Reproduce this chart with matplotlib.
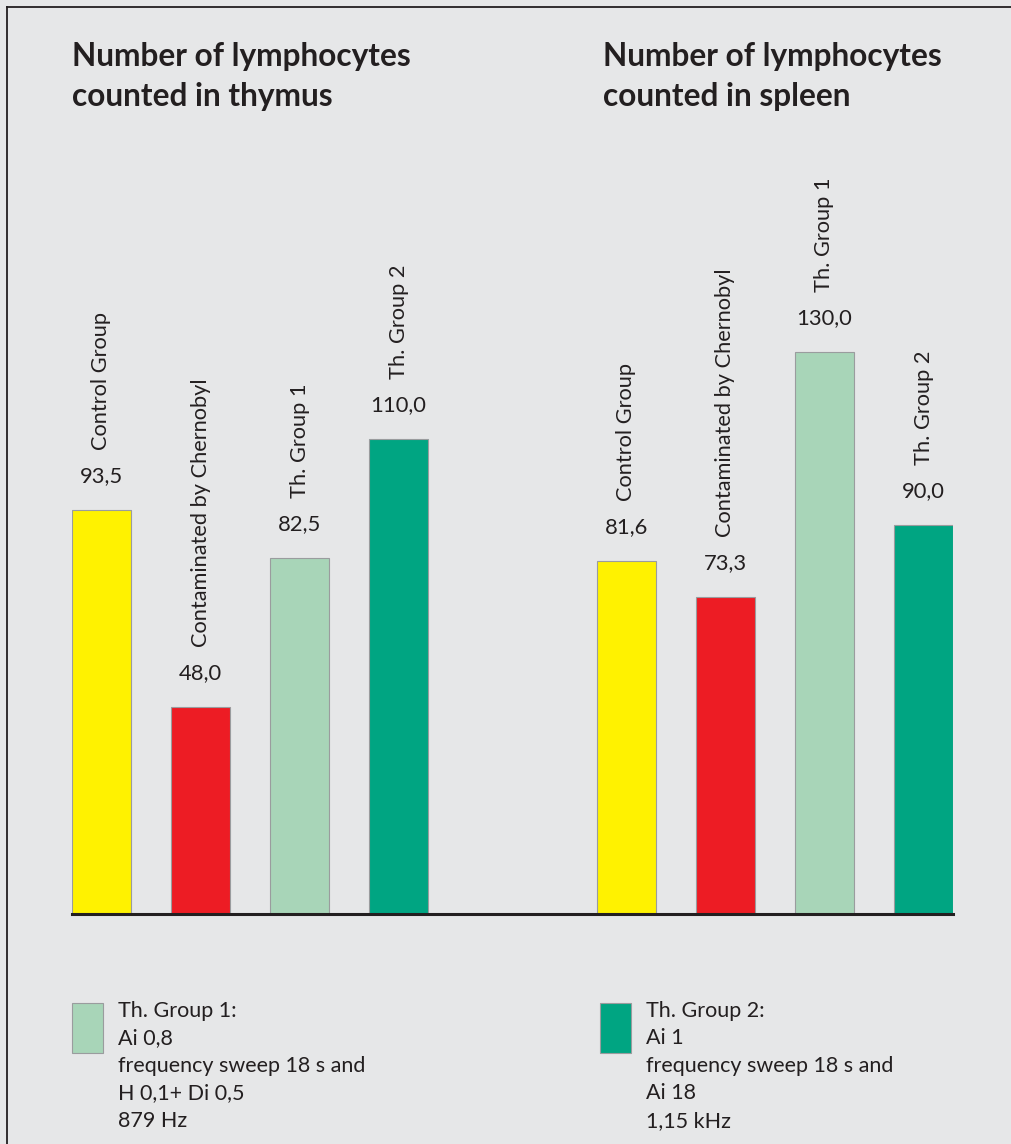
import numpy as np
import matplotlib.pyplot as plt
from matplotlib.patches import Rectangle
from matplotlib.lines import Line2D

plt.rcParams['font.family'] = ['Lato', 'DejaVu Sans']

# data
groups = ['Control Group', 'Contaminated by Chernobyl', 'Th. Group 1', 'Th. Group 2']
thymus = [93.5, 48.0, 82.5, 110.0]
spleen = [81.6, 73.3, 130.0, 90.0]
titles = ['Number of lymphocytes\ncounted in thymus', 'Number of lymphocytes\ncounted in spleen']
legend_th1 = ['Th. Group 1:', 'Ai 0,8', 'frequency sweep 18 s and', 'H 0,1+ Di 0,5', '879 Hz']
legend_th2 = ['Th. Group 2:', 'Ai 1', 'frequency sweep 18 s and', 'Ai 18', '1,15 kHz']

colors = ['#fff200', '#ed1c24', '#a8d5b8', '#00a582']
bg = '#e6e7e8'
ink = '#231f20'

W, H = 1011, 1144
fig = plt.figure(figsize=(W / 100, H / 100), dpi=100)
fig.patch.set_facecolor(bg)

def fx(px):
    return px / W

def fy(py):
    return 1 - py / H

# one axes holds both groups; baseline is a single line across
ax = fig.add_axes([fx(72), fy(914), fx(953 - 72), (914 - 150) / H])
ax.set_facecolor('none')

gap = 5.3
width = 0.595
x_left = np.arange(4)
x_right = np.arange(4) + gap

for xs, vals in ((x_left, thymus), (x_right, spleen)):
    ax.bar(xs, vals, width=width, color=colors, edgecolor='#9a9c9e', linewidth=0.8)
    for x, v, name in zip(xs, vals, groups):
        ax.annotate(f'{v:.1f}'.replace('.', ','), (x, v), xytext=(0, 34),
                    textcoords='offset pixels', ha='center', va='center',
                    fontsize=15.8, color=ink)
        ax.annotate(name, (x, v), xytext=(0, 60), textcoords='offset pixels',
                    ha='center', va='bottom', rotation=90, fontsize=15.7, color=ink)

ax.set_xlim(-width / 2, gap + 3 + width / 2)
ax.set_ylim(0, (914 - 150) / 4.32)
for s in ['top', 'right', 'left']:
    ax.spines[s].set_visible(False)
ax.spines['bottom'].set_linewidth(2.2)
ax.spines['bottom'].set_color(ink)
ax.set_xticks([])
ax.set_yticks([])

# titles
for x0, t in ((72, titles[0]), (603, titles[1])):
    fig.text(fx(x0), fy(42), t, ha='left', va='top', fontsize=22.8,
             fontweight='bold', color=ink, linespacing=1.45)

# legend boxes with their notes
for x0, col, lines in ((72, colors[2], legend_th1), (600, colors[3], legend_th2)):
    fig.patches.append(Rectangle((fx(x0), fy(1053)), fx(31), 50 / H,
                                 transform=fig.transFigure, facecolor=col,
                                 edgecolor='#9a9c9e', linewidth=0.8))
    for i, line in enumerate(lines):
        fig.text(fx(x0 + 46), fy(1011 + 27.4 * i), line, ha='left', va='center',
                 fontsize=15.5, color=ink)

# frame lines along top and left edge
fig.add_artist(Line2D([fx(7), 1], [fy(7), fy(7)], color=ink, lw=1.3))
fig.add_artist(Line2D([fx(7), fx(7)], [0, fy(7)], color=ink, lw=1.3))

fig.savefig('out.png', dpi=100, facecolor=bg)
